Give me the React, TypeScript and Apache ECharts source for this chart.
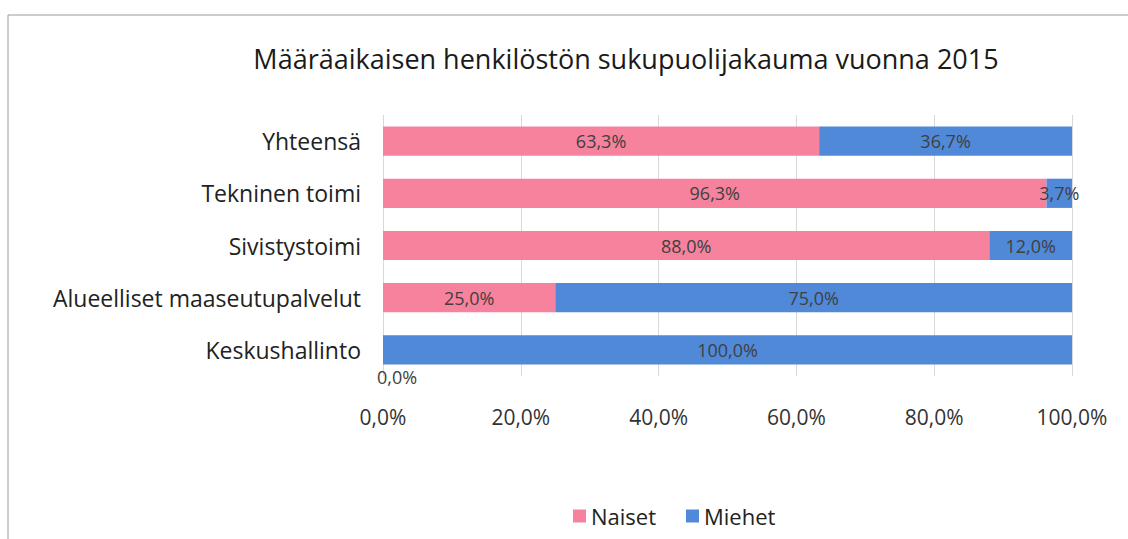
import React, { useEffect, useRef } from "react";
import * as echarts from "echarts";

const titleText = "Määräaikaisen henkilöstön sukupuolijakauma vuonna 2015";
const categories = ["Yhteensä", "Tekninen toimi", "Sivistystoimi", "Alueelliset maaseutupalvelut", "Keskushallinto"];
const naiset = [0.633, 0.963, 0.88, 0.25, 0.0];
const miehet = [0.367, 0.037, 0.12, 0.75, 1.0];
const seriesNames = ["Naiset", "Miehet"];
const xTicks = [0, 0.2, 0.4, 0.6, 0.8, 1.0];

const fmt = (v: number) => (v * 100).toFixed(1).replace(".", ",") + "%";
const FONT = "'Open Sans', 'Noto Sans', sans-serif";

export default function App() {
  const ref = useRef<HTMLDivElement>(null);
  useEffect(() => {
    if (!ref.current) return;
    const chart = echarts.init(ref.current, undefined, { renderer: "svg" });
    const labelStyle = {
      show: true,
      position: "inside" as const,
      color: "#404040",
      fontSize: 18,
      fontFamily: FONT,
      formatter: (p: any) => fmt(p.value),
    };
    chart.setOption({
      animation: false,
      backgroundColor: "#ffffff",
      title: {
        text: titleText,
        left: 621,
        textAlign: "center",
        top: 40,
        textStyle: { fontFamily: FONT, fontWeight: "normal", fontSize: 27, color: "#1a1a1a" },
      },
      legend: {
        data: seriesNames,
        left: 568,
        top: 500,
        itemWidth: 13,
        itemHeight: 13,
        itemGap: 30,
        icon: "rect",
        textStyle: { fontFamily: FONT, fontSize: 22, color: "#222" },
      },
      grid: { left: 383, right: 56, top: 115, bottom: 163 },
      xAxis: {
        type: "value",
        min: 0,
        max: 1,
        interval: 0.2,
        axisLine: { show: false },
        axisTick: { show: false },
        splitLine: { show: true, lineStyle: { color: "#d9d9d9", width: 1 } },
        axisLabel: {
          margin: 30,
          fontFamily: FONT,
          fontSize: 21,
          color: "#333",
          formatter: (v: number) => fmt(v),
          customValues: xTicks,
        },
      },
      yAxis: {
        type: "category",
        data: categories,
        inverse: true,
        axisLine: { show: false },
        axisTick: { show: false },
        axisLabel: { margin: 22, fontFamily: FONT, fontSize: 23, color: "#222" },
      },
      series: [
        {
          name: seriesNames[0],
          type: "bar",
          stack: "total",
          barWidth: "56%",
          itemStyle: { color: "#F7829E" },
          label: labelStyle,
          data: naiset.map((v) =>
            v === 0 ? { value: v, label: { offset: [14, 27] } } : { value: v }
          ),
        },
        {
          name: seriesNames[1],
          type: "bar",
          stack: "total",
          barWidth: "56%",
          itemStyle: { color: "#5089D8" },
          label: labelStyle,
          data: miehet,
        },
      ],
      graphic: [
        { type: "line", shape: { x1: 8, y1: 15, x2: 1128, y2: 15 }, style: { stroke: "#9a9a9a", lineWidth: 1 } },
        { type: "line", shape: { x1: 8, y1: 15, x2: 8, y2: 539 }, style: { stroke: "#9a9a9a", lineWidth: 1 } },
      ],
    });
    return () => chart.dispose();
  }, []);
  return <div ref={ref} style={{ position: "absolute", left: 0, top: 0, width: 1128, height: 539 }} />;
}
